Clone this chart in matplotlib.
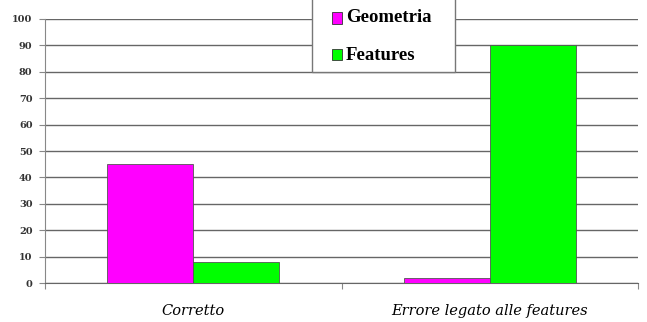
import matplotlib
matplotlib.use("Agg")
import matplotlib.pyplot as plt
import numpy as np
from matplotlib.patches import Patch, Rectangle

categories = ["Corretto", "Errore legato alle features"]
series_names = ["Geometria", "Features"]
geometria = [45, 2]
features = [8, 90]
colors = ["#ff00ff", "#00ff00"]
yticks = list(range(0, 101, 10))

fig = plt.figure(figsize=(6.47, 3.22), dpi=100)
ax = fig.add_axes([0.0696, 0.121, 0.917, 0.820])

x = np.arange(len(categories))
w = 0.29
ax.bar(x - w / 2, geometria, w, color=colors[0], edgecolor="#555555", linewidth=0.6, zorder=3)
ax.bar(x + w / 2, features, w, color=colors[1], edgecolor="#555555", linewidth=0.6, zorder=3)

ax.set_xlim(-0.5, 1.5)
ax.set_ylim(0, 100)
ax.set_yticks(yticks)
ax.set_yticklabels([str(t) for t in yticks], fontfamily="DejaVu Serif",
                   fontweight="bold", fontsize=7, color="#333333")
ax.yaxis.grid(True, color="#666666", linewidth=1.0, zorder=0)
ax.set_axisbelow(True)

# category labels centred, ticks at group boundaries
ax.set_xticks([-0.5, 0.5, 1.5])
ax.set_xticklabels([])
ax.set_xticks(x, minor=True)
ax.set_xticklabels(categories, minor=True, fontfamily="DejaVu Serif",
                   fontstyle="italic", fontsize=10.5)
ax.tick_params(axis="x", which="minor", length=0, pad=15)
ax.tick_params(axis="x", which="major", length=4, color="#888888")
ax.tick_params(axis="y", length=4, color="#888888", pad=5)

for s in ["top", "right"]:
    ax.spines[s].set_visible(False)
ax.spines["left"].set_color("#888888")
ax.spines["bottom"].set_color("#666666")

# legend box
fig.patches.append(Rectangle((312 / 647, 1 - 72 / 322), 143 / 647, 72 / 322 + 0.01,
                             transform=fig.transFigure, facecolor="white",
                             edgecolor="#777777", linewidth=1.0, zorder=5))
for i, (name, c) in enumerate(zip(series_names, colors)):
    yc = 1 - (18 + 37 * i) / 322
    fig.patches.append(Rectangle((332 / 647, yc - 5.5 / 322), 10 / 647, 11 / 322,
                                 transform=fig.transFigure, facecolor=c,
                                 edgecolor="#333333", linewidth=0.6, zorder=6))
    fig.text(346 / 647, yc, name, ha="left", va="center",
             fontfamily="Liberation Serif", fontweight="bold", fontsize=13.5,
             zorder=7)

fig.savefig("out.png", dpi=100)
